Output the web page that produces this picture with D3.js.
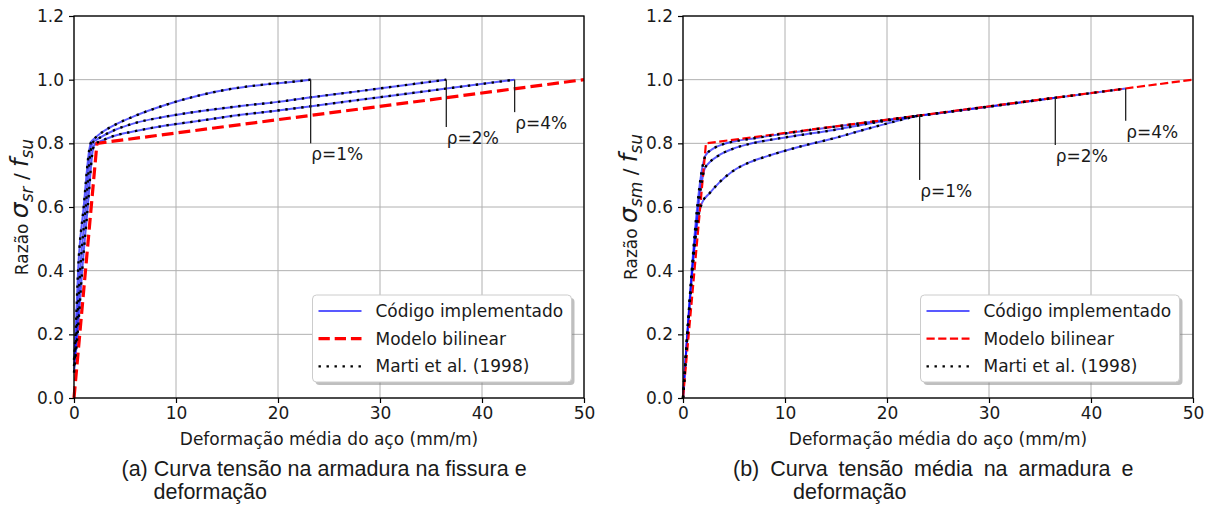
<!DOCTYPE html>
<html>
<head>
<meta charset="utf-8">
<script src="https://cdn.jsdelivr.net/npm/d3@7"></script>
<style>
  body { margin: 0; background: #fff; }
  text { font-family: "DejaVu Sans", sans-serif; fill: #1a1a1a; }
  .caption { font-family: "Liberation Sans", Arial, sans-serif; }
</style>
</head>
<body>
<svg id="chart" width="1210" height="505"></svg>
<script>
// eixos
const strainTicks = [0, 10, 20, 30, 40, 50]
const ratioTicks = [0, 0.2, 0.4, 0.6, 0.8, 1.0, 1.2]
const rhoLabels = ['ρ=1%', 'ρ=2%', 'ρ=4%']
const legendLabels = ['Código implementado', 'Modelo bilinear', 'Marti et al. (1998)']

// (a) tensão na armadura na fissura, [deformação (mm/m), σsr/fsu]
const srRho1 = [[0, 0.12], [0.15, 0.2], [0.4, 0.4], [0.95, 0.6], [1.5, 0.78], [1.7, 0.806], [2.0, 0.815], [2.55, 0.83],
    [4, 0.858], [5.8, 0.884], [9.1, 0.922], [12.35, 0.951], [15.6, 0.972], [19, 0.986], [22.2, 0.996], [23.2, 1.0]]
const srRho2 = [[0, 0.1], [0.25, 0.2], [0.6, 0.4], [1.15, 0.6], [1.65, 0.78], [1.85, 0.803], [2.2, 0.811], [2.55, 0.818],
    [4, 0.842], [5.8, 0.862], [9, 0.884], [12.35, 0.901], [16, 0.916], [20.2, 0.931], [23.1, 0.944], [28, 0.964], [32, 0.981], [36.5, 1.0]]
const srRho4 = [[0, 0.08], [0.35, 0.2], [0.8, 0.4], [1.35, 0.6], [1.85, 0.78], [2.05, 0.798], [2.55, 0.806],
    [4, 0.824], [5.8, 0.837], [9, 0.856], [12.35, 0.871], [16, 0.888], [20.2, 0.904], [23.1, 0.916], [30, 0.945], [36.5, 0.972], [43.2, 1.0]]

// (b) tensão média na armadura, [deformação (mm/m), σsm/fsu]
const smRho1 = [[0, 0], [1.6, 0.585], [1.85, 0.612], [2.6, 0.643], [3.5, 0.675], [4.9, 0.713], [6.5, 0.74], [8.2, 0.759],
    [11.5, 0.79], [14.8, 0.816], [18, 0.845], [21.3, 0.873], [23.2, 0.888]]
const smRho2 = [[0, 0], [1.85, 0.68], [2.1, 0.718], [2.6, 0.74], [3.5, 0.762], [4.9, 0.783], [6.5, 0.798], [8.2, 0.809],
    [11.5, 0.826], [14.8, 0.842], [18, 0.861], [21.3, 0.878], [25, 0.894], [30, 0.915], [36.5, 0.943]]
const smRho4 = [[0, 0], [2.0, 0.74], [2.2, 0.762], [3, 0.784], [4, 0.798], [5.2, 0.807], [7, 0.816], [10, 0.831],
    [15, 0.853], [20, 0.874], [30, 0.916], [43.4, 0.972]]

// modelo bilinear (igual nos dois gráficos)
const bilinear = [[0, 0], [2.25, 0.8], [50, 1.0]]

// fim das linhas de anotação (σ/fsu)
const annotTailA = [0.80, 0.851, 0.898]
const annotTailB = [0.685, 0.795, 0.871]

const svg = d3.select('#chart')
svg.append('rect').attr('width', 1210).attr('height', 505).attr('fill', '#fff')

const yScale = d3.scaleLinear().domain([0, 1.2]).range([398, 16])
const fs = 17

function drawPanel(opt) {
    const x = d3.scaleLinear().domain([0, 50]).range([opt.left, opt.left + 510])
    const y = yScale
    const g = svg.append('g')

    // grade
    g.selectAll('.gx').data(strainTicks).enter().append('line')
        .attr('x1', (d) => x(d)).attr('x2', (d) => x(d))
        .attr('y1', y(0)).attr('y2', y(1.2))
        .attr('stroke', '#b0b0b0').attr('stroke-width', 1)
    g.selectAll('.gy').data(ratioTicks).enter().append('line')
        .attr('x1', x(0)).attr('x2', x(50))
        .attr('y1', (d) => y(d)).attr('y2', (d) => y(d))
        .attr('stroke', '#b0b0b0').attr('stroke-width', 1)

    const curve = d3.line().x((d) => x(d[0])).y((d) => y(d[1])).curve(d3.curveMonotoneX)
    const straight = d3.line().x((d) => x(d[0])).y((d) => y(d[1]))

    // código implementado
    opt.series.forEach((s) => {
        g.append('path').attr('d', curve(s)).attr('fill', 'none')
            .attr('stroke', 'rgba(0,0,255,0.65)').attr('stroke-width', 2)
    })
    // modelo bilinear
    g.append('path').attr('d', straight(bilinear)).attr('fill', 'none')
        .attr('stroke', '#ff0000').attr('stroke-width', opt.redWidth)
        .attr('stroke-dasharray', opt.redDash)
    // Marti et al.
    opt.series.forEach((s) => {
        g.append('path').attr('d', curve(s)).attr('fill', 'none')
            .attr('stroke', '#000').attr('stroke-width', 2.4)
            .attr('stroke-dasharray', '2.4,5.6')
    })

    // anotações ρ
    opt.series.forEach((s, i) => {
        const end = s[s.length - 1]
        g.append('line')
            .attr('x1', x(end[0])).attr('x2', x(end[0]))
            .attr('y1', y(end[1])).attr('y2', y(opt.tails[i]))
            .attr('stroke', '#222').attr('stroke-width', 1.3)
        g.append('text')
            .attr('x', x(end[0]) + 0.5).attr('y', y(opt.tails[i]) + 17)
            .attr('font-size', fs).text(rhoLabels[i])
    })

    // eixos
    const xAxis = d3.axisBottom(x).tickValues(strainTicks).tickSize(5).tickPadding(4).tickFormat(d3.format('d'))
    const yAxis = d3.axisLeft(y).tickValues(ratioTicks).tickSize(5).tickPadding(5).tickFormat(d3.format('.1f'))
    const ax = g.append('g').attr('transform', `translate(0,${y(0)})`).call(xAxis)
    const ay = g.append('g').attr('transform', `translate(${x(0)},0)`).call(yAxis)
    ;[ax, ay].forEach((a) => {
        a.select('.domain').remove()
        a.selectAll('line').attr('stroke', '#000').attr('stroke-width', 1.2)
        a.selectAll('text').attr('font-size', fs).attr('fill', '#1a1a1a')
            .style('font-family', '"DejaVu Sans", sans-serif')
    })
    g.append('rect')
        .attr('x', x(0)).attr('y', y(1.2))
        .attr('width', x(50) - x(0)).attr('height', y(0) - y(1.2))
        .attr('fill', 'none').attr('stroke', '#000').attr('stroke-width', 1.3)

    // rótulos
    g.append('text')
        .attr('x', (x(0) + x(50)) / 2).attr('y', 445)
        .attr('text-anchor', 'middle').attr('font-size', fs)
        .text('Deformação média do aço (mm/m)')

    const yl = g.append('text')
        .attr('transform', `translate(${opt.left - 46},207) rotate(-90)`)
        .attr('text-anchor', 'middle').attr('font-size', fs)
    yl.append('tspan').text('Razão ')
    yl.append('tspan').attr('font-size', 25).attr('font-style', 'italic').text('σ')
    yl.append('tspan').attr('font-size', 17).attr('font-style', 'italic').attr('dy', 5).text(opt.sub)
    yl.append('tspan').attr('font-size', 20).attr('dy', -5).text(' / ')
    yl.append('tspan').attr('font-size', 24).attr('font-style', 'italic').text('f')
    yl.append('tspan').attr('font-size', 17).attr('font-style', 'italic').attr('dy', 5).text('su')

    // legenda
    const lg = g.append('g').attr('transform', `translate(${opt.legendX},295)`)
    lg.append('rect').attr('x', 3).attr('y', 3).attr('width', 259).attr('height', 87)
        .attr('rx', 4).attr('fill', '#7f7f7f').attr('opacity', 0.5)
    lg.append('rect').attr('width', 259).attr('height', 87).attr('rx', 4)
        .attr('fill', '#fff').attr('stroke', '#cccccc').attr('stroke-width', 1)
    const sample = [
        { stroke: 'rgba(0,0,255,0.65)', width: 2, dash: null },
        { stroke: '#ff0000', width: opt.redWidth, dash: opt.legendDash },
        { stroke: '#000', width: 2.4, dash: '2.4,5.6' }
    ]
    legendLabels.forEach((label, i) => {
        const ry = 16 + i * 27.7
        lg.append('line').attr('x1', 6).attr('x2', 49).attr('y1', ry).attr('y2', ry)
            .attr('stroke', sample[i].stroke).attr('stroke-width', sample[i].width)
            .attr('stroke-dasharray', sample[i].dash)
        lg.append('text').attr('x', 63).attr('y', ry + 6).attr('font-size', fs).text(label)
    })

    // legenda da figura (primeira linha justificada)
    const cap = svg.append('text').attr('class', 'caption').attr('font-size', 21.5)
    cap.append('tspan').attr('x', opt.capX).attr('y', 476)
        .style('word-spacing', opt.capSpacing + 'px')
        .text(opt.capTag + ' ' + opt.cap1)
    cap.append('tspan').attr('x', opt.capIndent).attr('y', 499).text('deformação')
}

drawPanel({
    left: 74, series: [srRho1, srRho2, srRho4], tails: annotTailA, sub: 'sr',
    redWidth: 3.2, redDash: '11.8,5.1', legendDash: '11.3,4.9', legendX: 312.5,
    capX: 121.5, capIndent: 153.5, capSpacing: 0, capTag: '(a)', cap1: 'Curva tensão na armadura na fissura e'
})
drawPanel({
    left: 683, series: [smRho1, smRho2, smRho4], tails: annotTailB, sub: 'sm',
    redWidth: 2.2, redDash: '8.2,3.5', legendDash: '8.2,3.5', legendX: 920.5,
    capX: 733, capIndent: 793, capSpacing: 5, capTag: '(b)', cap1: 'Curva tensão média na armadura e'
})
</script>
</body>
</html>
